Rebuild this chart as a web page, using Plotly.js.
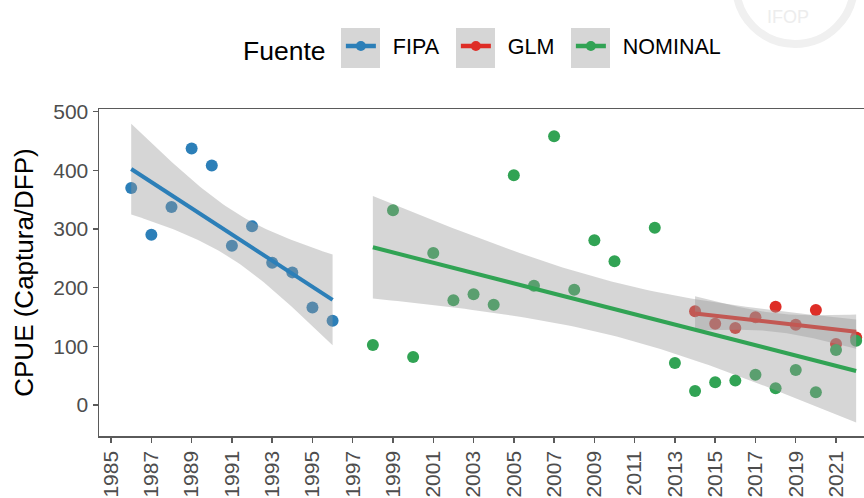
<!DOCTYPE html>
<html>
<head>
<meta charset="utf-8">
<script src="https://cdn.plot.ly/plotly-3.0.1.min.js"></script>
<style>html,body{margin:0;padding:0;background:#fff;}</style>
</head>
<body>
<div id="chart" style="width:864px;height:498px;"></div>
<script>
// ---- data ----
const fipaYears = [1986,1987,1988,1989,1990,1991,1992,1993,1994,1995,1996];
const fipaCPUE  = [370,290,337.5,437,408,271.5,304.5,242.5,226,166,143.7];

const glmYears = [2014,2015,2016,2017,2018,2019,2020,2021,2022];
const glmCPUE  = [159.7,138.6,131.2,149.5,167.6,136.9,162,104,115];

const nomYears = [1998,1999,2000,2001,2002,2003,2004,2005,2006,2007,2008,2009,2010,
                  2012,2013,2014,2015,2016,2017,2018,2019,2020,2021,2022];
const nomCPUE  = [102.3,331.8,81.8,259,178.4,188.6,171,391.5,203.4,458,196.5,280.7,245,
                  302,71.6,23.9,38.7,41.5,51.7,28.4,59.7,21.6,93.7,109.6];

const seriesNames = ['FIPA','GLM','NOMINAL'];
const xTickVals = [1985,1987,1989,1991,1993,1995,1997,1999,2001,2003,2005,2007,2009,2011,2013,2015,2017,2019,2021];

// ---- styles ----
const colors = {FIPA:'#2C7FB8', GLM:'#DE2D26', NOMINAL:'#31A354'};
const ribbonFill = 'rgba(153,153,153,0.4)';
const axisCol = '#5a5a5a';
const tickTextCol = '#4D4D4D';
const NB = '\u00A0';

// 97.5% Student t quantiles by degrees of freedom
const t975 = {7:2.3646, 9:2.2622, 22:2.0739};

// linear model fit with 95% confidence band (as geom_smooth(method = "lm"))
function lmBand(xs, ys, nGrid) {
  const n = xs.length;
  const mx = xs.reduce((a,b)=>a+b,0)/n;
  const my = ys.reduce((a,b)=>a+b,0)/n;
  let sxx=0, sxy=0;
  for (let i=0;i<n;i++){ sxx += (xs[i]-mx)**2; sxy += (xs[i]-mx)*(ys[i]-my); }
  const b = sxy/sxx, a = my - b*mx;
  let ssr = 0;
  for (let i=0;i<n;i++){ ssr += (ys[i]-(a+b*xs[i]))**2; }
  const s = Math.sqrt(ssr/(n-2));
  const t = t975[n-2];
  const x0 = Math.min(...xs), x1 = Math.max(...xs);
  const gx=[], fit=[], lo=[], hi=[];
  for (let k=0;k<nGrid;k++){
    const x = x0 + (x1-x0)*k/(nGrid-1);
    const yh = a + b*x;
    const se = s*Math.sqrt(1/n + (x-mx)**2/sxx);
    gx.push(x); fit.push(yh); lo.push(yh - t*se); hi.push(yh + t*se);
  }
  return {gx, fit, lo, hi};
}

const groups = [
  {name:'FIPA', x:fipaYears, y:fipaCPUE},
  {name:'GLM', x:glmYears, y:glmCPUE},
  {name:'NOMINAL', x:nomYears, y:nomCPUE}
];

const traces = [];
// points first (under the smooth layers)
groups.forEach(g => {
  traces.push({type:'scatter', mode:'markers', x:g.x, y:g.y, name:g.name,
    showlegend:false, hoverinfo:'x+y',
    marker:{color:colors[g.name], size:12, line:{width:0}}});
});
// smooth: ribbon then line for each group
groups.forEach(g => {
  const f = lmBand(g.x, g.y, 80);
  traces.push({type:'scatter', mode:'lines', x:f.gx.concat(f.gx.slice().reverse()),
    y:f.hi.concat(f.lo.slice().reverse()), fill:'toself', fillcolor:ribbonFill,
    line:{width:0, color:'rgba(0,0,0,0)'}, showlegend:false, hoverinfo:'skip'});
  traces.push({type:'scatter', mode:'lines', x:f.gx, y:f.fit, showlegend:false,
    line:{color:colors[g.name], width:4}, hoverinfo:'skip'});
});
// legend entries
const legendWidths = {FIPA:70, GLM:70, NOMINAL:undefined};
seriesNames.forEach(nm => {
  const tr = {type:'scatter', mode:'lines+markers', x:[null], y:[null], name:NB+NB+nm,
    showlegend:true, line:{color:colors[nm], width:4.5}, marker:{color:colors[nm], size:10}};
  if (legendWidths[nm]) tr.legendwidth = legendWidths[nm];
  traces.push(tr);
});

// plot area in pixels: left 99, right 864, top 109, bottom 436
const L=99, R=864, T=109, B=436;
const px = v => (v-L)/(R-L);
const py = v => (B-v)/(B-T);

const keyBoxes = [[341,380],[456,495],[571,610]].map(([a,b]) => ({
  type:'rect', xref:'paper', yref:'paper', x0:px(a), x1:px(b), y0:py(68), y1:py(28),
  fillcolor:'#D6D6D6', line:{width:0}, layer:'above'}));

const layout = {
  width:864, height:498,
  margin:{l:L, r:864-R, t:T, b:498-B, pad:0},
  paper_bgcolor:'#fff', plot_bgcolor:'#fff',
  font:{family:'Liberation Sans, Arial, sans-serif', color:'#000'},
  showlegend:true,
  legend:{orientation:'h', x:px(241), xanchor:'left', y:py(48), yanchor:'middle',
    title:{text:'Fuente'+NB, side:'left', font:{size:26.5, color:'#000'}},
    font:{size:21.5, color:'#000'}, itemwidth:30,
    bgcolor:'rgba(0,0,0,0)', borderwidth:0, itemclick:false},
  xaxis:{range:[1984.4, 2022.39], showgrid:false, zeroline:false,
    showline:true, linecolor:axisCol, linewidth:1.5, mirror:true,
    ticks:'outside', ticklen:5, tickwidth:1.5, tickcolor:axisCol,
    tickmode:'array', tickvals:xTickVals, ticktext:xTickVals.map(String), tickangle:-90,
    tickfont:{size:21, color:tickTextCol}},
  yaxis:{range:[-52.9, 504.5], showgrid:false, zeroline:false,
    showline:true, linecolor:axisCol, linewidth:1.5,
    ticks:'outside', ticklen:5, tickwidth:1.5, tickcolor:axisCol,
    tickmode:'array', tickvals:[0,100,200,300,400,500],
    tickfont:{size:21, color:tickTextCol},
    title:{text:'CPUE (Captura/DFP)', font:{size:26, color:'#000'}, standoff:12}},
  shapes: keyBoxes.concat([
    {type:'circle', xref:'paper', yref:'paper', x0:px(736), x1:px(854), y0:py(44), y1:py(-74),
     line:{color:'#F0F0F0', width:8}, layer:'below'}
  ]),
  annotations:[
    {text:'IFOP', xref:'paper', yref:'paper', x:px(788), y:py(29), xanchor:'center', yanchor:'bottom',
     showarrow:false, font:{size:18, color:'#EDEDED'}}
  ]
};

Plotly.newPlot('chart', traces, layout, {displayModeBar:false, staticPlot:true});
</script>
</body>
</html>
